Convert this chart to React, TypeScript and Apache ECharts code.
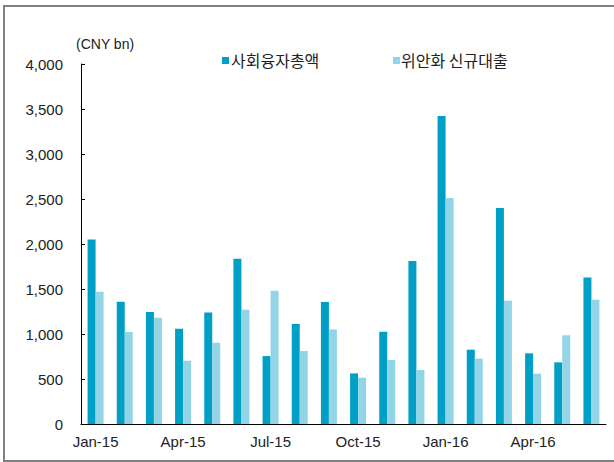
import React, { useEffect, useRef } from "react";
import * as echarts from "echarts";

const categories = [
  "Jan-15", "Feb-15", "Mar-15", "Apr-15", "May-15", "Jun-15",
  "Jul-15", "Aug-15", "Sep-15", "Oct-15", "Nov-15", "Dec-15",
  "Jan-16", "Feb-16", "Mar-16", "Apr-16", "May-16", "Jun-16",
];
const tsfValues = [2050, 1359, 1244, 1059, 1240, 1837, 755, 1111, 1355, 562, 1026, 1811, 3422, 826, 2400, 785, 685, 1629];
const loanValues = [1470, 1022, 1181, 703, 903, 1270, 1481, 811, 1051, 514, 711, 600, 2511, 726, 1370, 559, 985, 1381];
const seriesNames = ["사회융자총액", "위안화 신규대출"];
const yTicks = [0, 500, 1000, 1500, 2000, 2500, 3000, 3500, 4000];
const unitLabel = "(CNY bn)";

const DARK = "#00A0C6";
const LIGHT = "#92D5E6";
const FONT = "'Liberation Sans', 'Noto Sans CJK KR', sans-serif";
const KFONT = "'Noto Sans CJK KR', sans-serif";

export default function App() {
  const ref = useRef<HTMLDivElement>(null);
  useEffect(() => {
    document.body.style.margin = "0";
    if (!ref.current) return;
    const chart = echarts.init(ref.current, undefined, { renderer: "svg" });
    chart.setOption({
      animation: false,
      backgroundColor: "#ffffff",
      grid: { left: 81, right: 8, top: 64, bottom: 38, containLabel: false },
      legend: { show: false, data: seriesNames },
      graphic: [
        {
          type: "rect", silent: true,
          shape: { x: 4, y: 6, width: 640, height: 455 },
          style: { fill: "none", stroke: "#808080", lineWidth: 2 },
        },
        {
          type: "text", left: 76, top: 37,
          style: { text: unitLabel, font: `14px ${FONT}`, fill: "#222" },
        },
        {
          type: "rect", silent: true,
          shape: { x: 222, y: 57, width: 7, height: 7 },
          style: { fill: DARK },
        },
        {
          type: "text", x: 231, y: 60,
          style: { text: seriesNames[0], font: `16px ${KFONT}`, fill: "#222", textVerticalAlign: "middle" },
        },
        {
          type: "rect", silent: true,
          shape: { x: 393, y: 57, width: 7, height: 7 },
          style: { fill: LIGHT },
        },
        {
          type: "text", x: 401, y: 60,
          style: { text: seriesNames[1], font: `16px ${KFONT}`, fill: "#222", textVerticalAlign: "middle" },
        },
      ],
      xAxis: {
        type: "category",
        data: categories,
        boundaryGap: true,
        axisLine: { lineStyle: { color: "#000", width: 1 } },
        axisTick: { inside: true, length: 5, interval: 0, lineStyle: { color: "#000" } },
        axisLabel: { interval: 2, margin: 10, fontFamily: FONT, fontSize: 15, color: "#222" },
        splitLine: { show: false },
      },
      yAxis: {
        type: "value",
        min: yTicks[0],
        max: yTicks[yTicks.length - 1],
        interval: 500,
        axisLine: { show: true, lineStyle: { color: "#000", width: 1 } },
        axisTick: { show: true, inside: true, length: 4, lineStyle: { color: "#000" } },
        axisLabel: {
          margin: 18, fontFamily: FONT, fontSize: 15, color: "#222",
          formatter: (v: number) => v.toLocaleString("en-US"),
        },
        splitLine: { show: false },
      },
      series: [
        {
          name: seriesNames[0], type: "bar", data: tsfValues,
          barWidth: 8, barGap: "0%",
          itemStyle: { color: DARK },
        },
        {
          name: seriesNames[1], type: "bar", data: loanValues,
          barWidth: 8, barGap: "0%",
          itemStyle: { color: LIGHT },
        },
      ],
    });
    return () => chart.dispose();
  }, []);
  return <div ref={ref} style={{ width: 614, height: 462 }} />;
}
